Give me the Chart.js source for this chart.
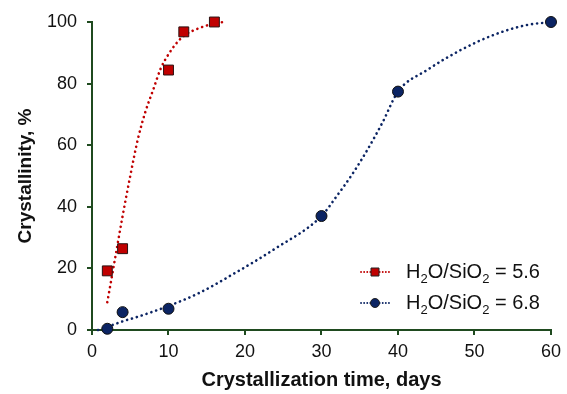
<!DOCTYPE html>
<html lang="en">
<head>
    <meta charset="UTF-8">
    <title>Crystallinity vs time</title>
    <style>
        html, body { margin: 0; padding: 0; background: #fff; }
        #wrap { width: 567px; height: 394px; }
    </style>
</head>
<body>
    <div id="wrap"><canvas id="chart" width="567" height="394"></canvas></div>
    <script src="https://cdn.jsdelivr.net/npm/chart.js@4.4.0/dist/chart.umd.min.js"></script>
    <script>
        // measured points
        const daysA = [2, 4, 10, 12, 16]
        const crystA = [19.2, 26.4, 84.4, 96.8, 100]
        const daysB = [2, 4, 10, 30, 40, 60]
        const crystB = [0.4, 5.8, 6.9, 37, 77.4, 100]

        // dotted curves
        const curveAx = [2, 3, 4, 5, 6, 7, 8, 9, 10, 11, 12, 14, 16, 17.2]
        const curveAy = [9, 23, 37, 50, 62, 71, 78, 85, 89.5, 93, 95.5, 98, 99.5, 100]
        const curveBx = [0.8, 2, 4, 6, 8, 10, 14, 18, 24, 30, 32, 34, 36, 38, 40, 43.8, 48.2, 52.5, 56.8, 60]
        const curveBy = [0, 1, 2.8, 4.3, 6, 7.8, 12, 17.5, 26.5, 37, 43.5, 50.5, 58.5, 67.5, 77.4, 84.4, 90.9, 95.8, 99, 100]

        const labelA = 'H₂O/SiO₂ = 5.6'
        const labelB = 'H₂O/SiO₂ = 6.8'

        const red = '#c00000'
        const navy = '#0b2463'
        const axisColor = '#1f4a1f'
        const font = 'Arial, "Liberation Sans", sans-serif'

        const pts = (xs, ys) => xs.map((x, i) => ({ x, y: ys[i] }))

        const curve = (data, color) => ({
            type: 'line',
            data,
            borderColor: color,
            borderWidth: 2.6,
            borderDash: [0.1, 5],
            borderCapStyle: 'round',
            pointRadius: 0,
            cubicInterpolationMode: 'monotone',
            fill: false,
            clip: false,
            order: 2,
        })

        // draws the legend in the lower right of the plot, with subscripts
        const insideLegend = {
            id: 'insideLegend',
            afterDraw(chart) {
                const ctx = chart.ctx
                const rows = [
                    { label: labelA, line: red, fill: red, style: 'rect', y: 272 },
                    { label: labelB, line: navy, fill: navy, style: 'circle', y: 303 },
                ]
                ctx.save()
                rows.forEach(r => {
                    ctx.strokeStyle = r.line
                    ctx.lineWidth = 1.8
                    ctx.lineCap = 'round'
                    ctx.setLineDash([0.1, 3])
                    ctx.beginPath()
                    ctx.moveTo(361, r.y)
                    ctx.lineTo(390, r.y)
                    ctx.stroke()
                    ctx.setLineDash([])
                    ctx.lineCap = 'butt'
                    ctx.fillStyle = r.fill
                    ctx.strokeStyle = '#222'
                    ctx.lineWidth = 1
                    ctx.beginPath()
                    if (r.style === 'rect') ctx.rect(371, r.y - 4, 8, 8)
                    else ctx.arc(375, r.y, 4.5, 0, Math.PI * 2)
                    ctx.fill()
                    ctx.stroke()

                    let x = 406
                    ctx.fillStyle = '#111'
                    ctx.textBaseline = 'middle'
                    r.label.split('₂').forEach((part, i) => {
                        if (i > 0) {
                            ctx.font = '13px ' + font
                            ctx.fillText('2', x, r.y + 7)
                            x += ctx.measureText('2').width
                        }
                        ctx.font = '20px ' + font
                        ctx.fillText(part, x, r.y)
                        x += ctx.measureText(part).width
                    })
                })
                ctx.restore()
            }
        }

        new Chart(document.getElementById('chart').getContext('2d'), {
            type: 'scatter',
            data: {
                datasets: [
                    {
                        label: labelA,
                        data: pts(daysA, crystA),
                        pointStyle: 'rect',
                        pointRadius: 7,
                        backgroundColor: red,
                        borderColor: '#2b1010',
                        borderWidth: 1,
                        clip: false,
                        order: 1,
                    },
                    {
                        label: labelB,
                        data: pts(daysB, crystB),
                        pointStyle: 'circle',
                        pointRadius: 5.5,
                        backgroundColor: navy,
                        borderColor: '#111',
                        borderWidth: 1,
                        clip: false,
                        order: 1,
                    },
                    curve(pts(curveAx, curveAy), red),
                    curve(pts(curveBx, curveBy), navy),
                ]
            },
            options: {
                responsive: false,
                animation: false,
                layout: { padding: { top: 22, right: 12, left: 0, bottom: 0 } },
                plugins: {
                    legend: { display: false },
                    tooltip: { enabled: false },
                },
                scales: {
                    x: {
                        type: 'linear',
                        min: 0,
                        max: 60,
                        afterFit: s => { s.height = 64 },
                        ticks: { stepSize: 10, color: '#111', padding: 6, font: { family: font, size: 18 } },
                        grid: { drawOnChartArea: false, drawTicks: true, tickLength: 5, color: axisColor, lineWidth: 2 },
                        border: { color: axisColor, width: 2 },
                        title: {
                            display: true,
                            text: 'Crystallization time, days',
                            color: '#111',
                            font: { family: font, size: 20, weight: 'bold' },
                            padding: { top: 2, bottom: 2 },
                        },
                    },
                    y: {
                        min: 0,
                        max: 100,
                        afterFit: s => { s.width = 92 },
                        ticks: { stepSize: 20, color: '#111', padding: 10, font: { family: font, size: 18 } },
                        grid: { drawOnChartArea: false, drawTicks: true, tickLength: 5, color: axisColor, lineWidth: 2 },
                        border: { color: axisColor, width: 2 },
                        title: {
                            display: true,
                            text: 'Crystallinity, %',
                            color: '#111',
                            font: { family: font, size: 19, weight: 'bold' },
                            padding: { top: 14, bottom: 0 },
                        },
                    },
                },
            },
            plugins: [insideLegend],
        })
    </script>
</body>
</html>
